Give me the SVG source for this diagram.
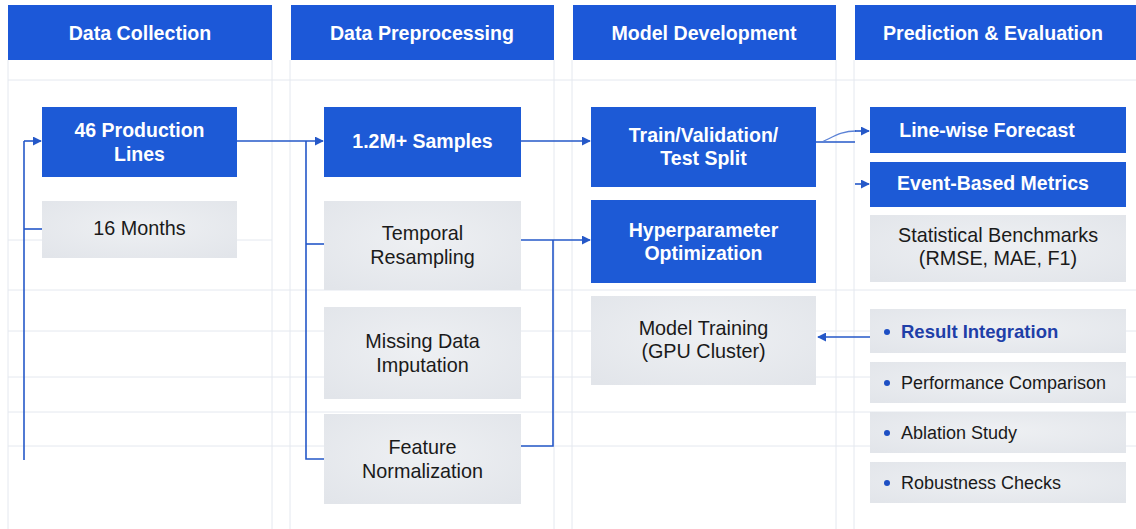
<svg xmlns="http://www.w3.org/2000/svg" width="1136" height="529" viewBox="0 0 1136 529">
<defs>
<radialGradient id="gg" cx="50%" cy="45%" r="70%">
<stop offset="0" stop-color="#eef0f3"/>
<stop offset="1" stop-color="#e2e5ea"/>
</radialGradient>
<marker id="ah" viewBox="0 0 10 10" refX="9" refY="5" markerWidth="9" markerHeight="9" markerUnits="userSpaceOnUse" orient="auto">
<path d="M0,0 L10,5 L0,10 Z" fill="#2558c8"/>
</marker>
<style>
.grid{stroke:#e4e8ef;stroke-width:1;fill:none}
.hdr{fill:#1c58d8}
.hdrt{font-family:"Liberation Sans",Arial,sans-serif;font-size:19.6px;font-weight:bold;fill:#ffffff;text-anchor:middle}
.blue{fill:#1d5ad6}
.gray{fill:url(#gg)}
.wt{font-family:"Liberation Sans",Arial,sans-serif;font-size:19.5px;font-weight:bold;fill:#ffffff;text-anchor:middle}
.dt{font-family:"Liberation Sans",Arial,sans-serif;font-size:19.8px;fill:#1a1a1a;text-anchor:middle}
.bt{font-family:"Liberation Sans",Arial,sans-serif;font-size:18px;fill:#1a1a1a}
.bti{font-family:"Liberation Sans",Arial,sans-serif;font-size:18.5px;font-weight:bold;fill:#1f3fa8}
.dot{fill:#1d4fc4}
.c{stroke:#2558c8;stroke-width:1.6;fill:none}
.ca{stroke:#2558c8;stroke-width:1.6;fill:none;marker-end:url(#ah)}
.cl{stroke:#5b82d6;stroke-width:1.3;fill:none}
</style>
</defs>
<rect width="1136" height="529" fill="#ffffff"/>
<g id="grid">
<path class="grid" d="M8,60V529 M272,60V529 M290,60V529 M554,60V529 M572,60V529 M836,60V529 M854,60V529"/>
<path class="grid" d="M8,80H1136 M8,240H272 M8,290H1136 M8,331H1136 M8,377H1136 M8,412H1136 M8,446H1136"/>
</g>
<g id="headers">
<g id="h-collection"><rect class="hdr" x="8" y="5" width="264" height="55"/><text class="hdrt" x="140" y="40">Data Collection</text></g>
<g id="h-preprocessing"><rect class="hdr" x="291" y="5" width="263" height="55"/><text class="hdrt" x="422" y="40">Data Preprocessing</text></g>
<g id="h-model"><rect class="hdr" x="573" y="5" width="263" height="55"/><text class="hdrt" x="704" y="40">Model Development</text></g>
<g id="h-prediction"><rect class="hdr" x="855" y="5" width="281" height="55"/><text class="hdrt" x="993" y="40">Prediction &amp; Evaluation</text></g>
</g>
<g id="connectors">
<path class="c" d="M24,460V141"/>
<path class="ca" d="M24,141H41"/>
<path class="c" d="M24,229H42"/>
<path class="ca" d="M237,141H323"/>
<path class="c" d="M306,141V459H324"/>
<path class="c" d="M306,244H324"/>
<path class="ca" d="M521,141H590"/>
<path class="ca" d="M521,240H590"/>
<path class="c" d="M521,446H553V240"/>
<path class="c" d="M816,142H855"/>
<path class="cl" d="M822,142C835,136 842,131 856,131"/>
<path class="ca" d="M855,131H869"/>
<path class="ca" d="M855,184H869"/>
<path class="ca" d="M870,337H818"/>
</g>
<g id="n-lines"><rect class="blue" x="42" y="107" width="195" height="70"/><text class="wt" x="139.5" y="137">46 Production</text><text class="wt" x="139.5" y="161">Lines</text></g>
<g id="n-months"><rect class="gray" x="42" y="201" width="195" height="57"/><text class="dt" x="139.5" y="235">16 Months</text></g>
<g id="n-samples"><rect class="blue" x="324" y="107" width="197" height="70"/><text class="wt" x="422.5" y="148">1.2M+ Samples</text></g>
<g id="n-resampling"><rect class="gray" x="324" y="201" width="197" height="89"/><text class="dt" x="422.5" y="240">Temporal</text><text class="dt" x="422.5" y="264">Resampling</text></g>
<g id="n-imputation"><rect class="gray" x="324" y="307" width="197" height="92"/><text class="dt" x="422.5" y="348">Missing Data</text><text class="dt" x="422.5" y="372">Imputation</text></g>
<g id="n-normalization"><rect class="gray" x="324" y="414" width="197" height="90"/><text class="dt" x="422.5" y="454">Feature</text><text class="dt" x="422.5" y="478">Normalization</text></g>
<g id="n-split"><rect class="blue" x="591" y="107" width="225" height="80"/><text class="wt" x="703.5" y="142">Train/Validation/</text><text class="wt" x="703.5" y="165">Test Split</text></g>
<g id="n-hyper"><rect class="blue" x="591" y="200" width="225" height="83"/><text class="wt" x="703.5" y="237">Hyperparameter</text><text class="wt" x="703.5" y="260">Optimization</text></g>
<g id="n-training"><rect class="gray" x="591" y="296" width="225" height="89"/><text class="dt" x="703.5" y="335">Model Training</text><text class="dt" x="703.5" y="358">(GPU Cluster)</text></g>
<g id="n-forecast"><rect class="blue" x="870" y="107" width="256" height="46"/><text class="wt" x="987" y="137">Line-wise Forecast</text></g>
<g id="n-event"><rect class="blue" x="870" y="162" width="256" height="45"/><text class="wt" x="993" y="190">Event-Based Metrics</text></g>
<g id="n-stat"><rect class="gray" x="870" y="215" width="256" height="67"/><text class="dt" x="998" y="242">Statistical Benchmarks</text><text class="dt" x="998" y="265">(RMSE, MAE, F1)</text></g>
<g id="n-result"><rect class="gray" x="870" y="309" width="256" height="44"/><circle class="dot" cx="887" cy="332" r="3"/><text class="bti" x="901" y="338">Result Integration</text></g>
<g id="n-performance"><rect class="gray" x="870" y="362" width="256" height="41"/><circle class="dot" cx="887" cy="383" r="3"/><text class="bt" x="901" y="389">Performance Comparison</text></g>
<g id="n-ablation"><rect class="gray" x="870" y="412" width="256" height="41"/><circle class="dot" cx="887" cy="433" r="3"/><text class="bt" x="901" y="439">Ablation Study</text></g>
<g id="n-robustness"><rect class="gray" x="870" y="462" width="256" height="41"/><circle class="dot" cx="887" cy="483" r="3"/><text class="bt" x="901" y="489">Robustness Checks</text></g>
</svg>
